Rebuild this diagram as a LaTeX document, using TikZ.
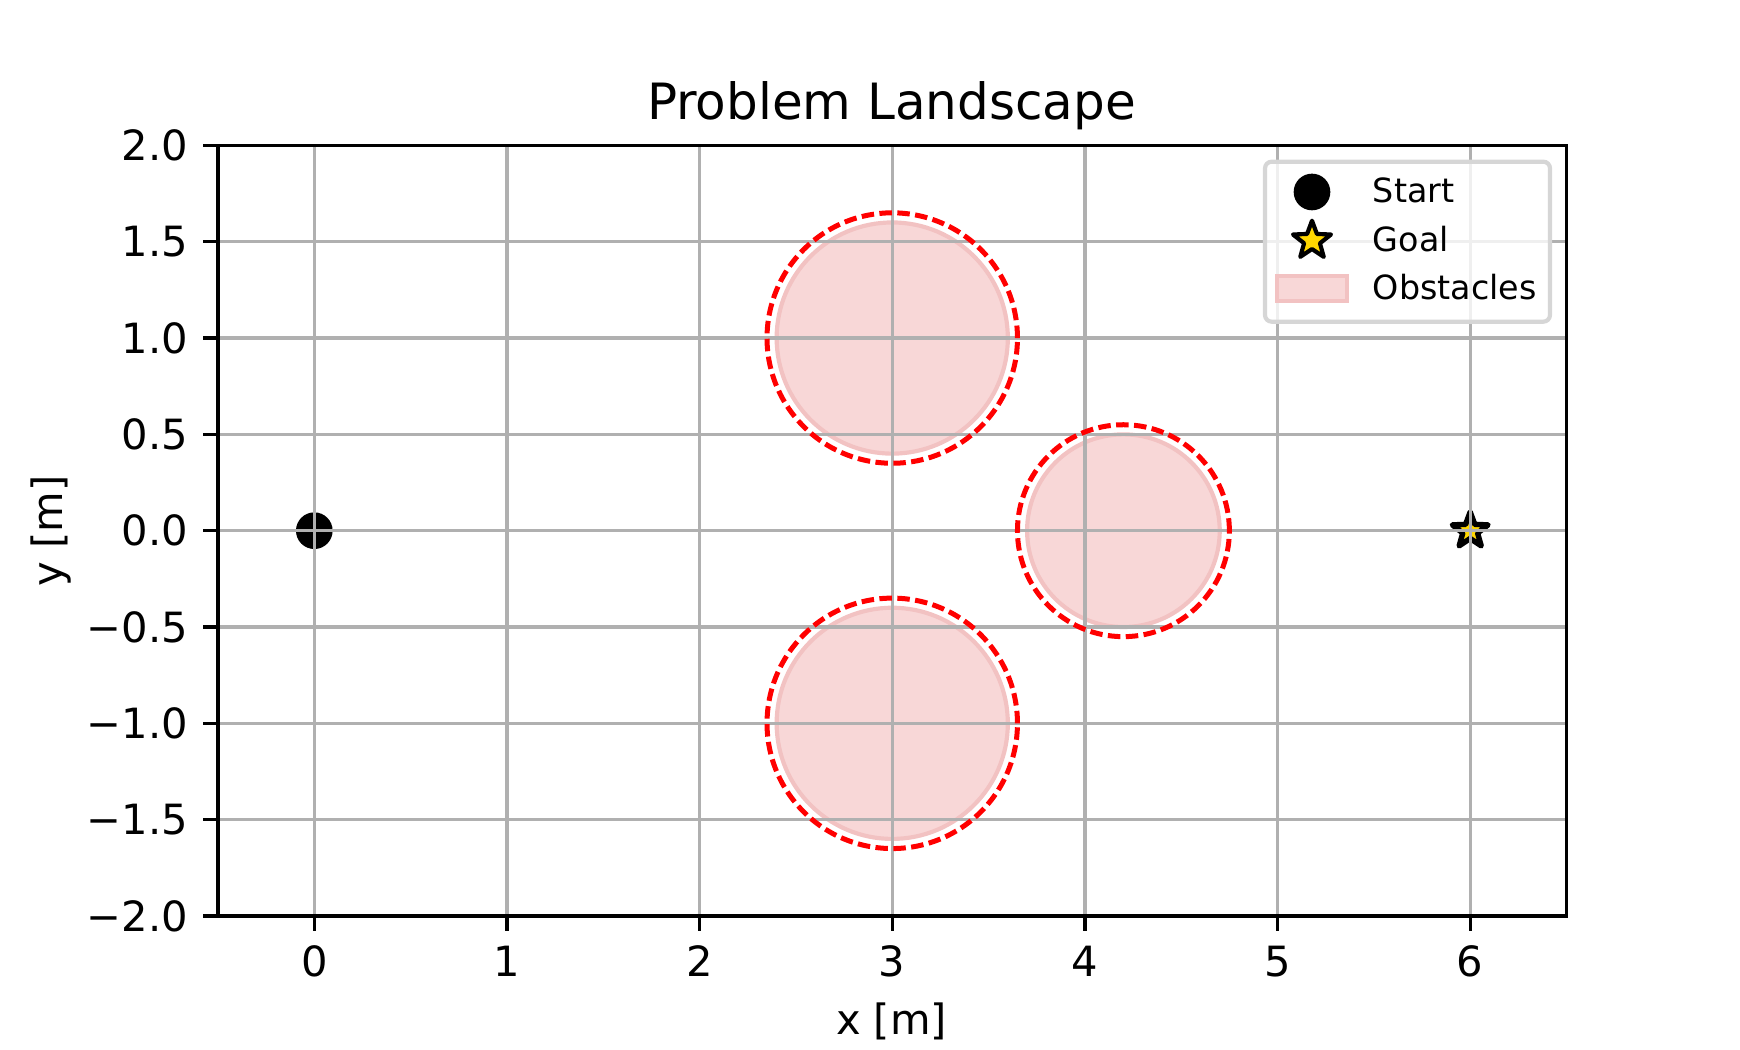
\documentclass[tikz,border=0pt]{standalone}
\usepackage{fontspec}
\setmainfont{DejaVu Sans}
\usetikzlibrary{shapes.geometric}
\definecolor{gridgray}{HTML}{B0B0B0}
\definecolor{goldc}{HTML}{FFD700}
\definecolor{obsfill}{RGB}{248,215,215}
\definecolor{obsedge}{RGB}{242,194,194}
\definecolor{legedge}{RGB}{214,214,214}
\begin{document}
\begin{tikzpicture}[x=0.24pt,y=-0.24pt,
  tickline/.style={line width=0.8pt,black},
  gridline/.style={line width=0.8pt,gridgray},
  ticklab/.style={font=\fontsize{10}{12}\selectfont,inner sep=0pt},
  leglab/.style={font=\fontsize{8}{10}\selectfont,inner sep=0pt,anchor=base west},
  startmark/.style={circle,fill=black,inner sep=0pt,minimum size=8.8pt},
  goalmark/.style={star,star points=5,star point ratio=2.4,fill=goldc,draw=black,line width=1pt,line join=round,inner sep=0pt,minimum size=9.6pt},
  obstacle/.style={fill=obsfill,draw=obsedge,line width=1pt},
  safety/.style={draw=red,line width=1.2pt,dash pattern=on 3pt off 1.3pt}]
\useasboundingbox (0,0) rectangle (1740,1050);
\begin{scope}[shift={(314.3,530.7)},x=46.236pt,y=46.236pt]
  % obstacles
  \path[obstacle] (3,1) circle[radius=0.6];
  \path[obstacle] (3,-1) circle[radius=0.6];
  \path[obstacle] (4.2,0) circle[radius=0.5];
  % start and goal
  \node[startmark] (start) at (0,0) {};
  \node[goalmark,line width=1.3pt,minimum size=9pt] (goal) at (6,0) {};
  % grid
  \foreach \x in {0,...,6} \draw[gridline] (\x,-2) -- (\x,2);
  \foreach \y in {-1.5,-1,-0.5,0,0.5,1,1.5} \draw[gridline] (-0.5,\y) -- (6.5,\y);
  % safety margins
  \path[safety] (3,1) circle[radius=0.65];
  \path[safety] (3,-1) circle[radius=0.65];
  \path[safety] (4.2,0) circle[radius=0.55];
  % axes frame
  \draw[line width=0.8pt] (-0.5,-2) rectangle (6.5,2);
  % x ticks
  \foreach \x in {0,...,6} {
    \draw[tickline] (\x,-2) -- ++(0,-3.5pt);
    \node[ticklab,anchor=north] (xt\x) at ([yshift=-7pt]\x,-2) {\x};
  }
  % y ticks
  \foreach \y/\t [count=\i] in {-2/−2.0,-1.5/−1.5,-1/−1.0,-0.5/−0.5,0/0.0,0.5/0.5,1/1.0,1.5/1.5,2/2.0} {
    \draw[tickline] (-0.5,\y) -- ++(-3.5pt,0);
    \node[ticklab,anchor=east] (yt\i) at ([xshift=-7pt]-0.5,\y) {\t};
  }
\end{scope}
% labels
\node[font=\fontsize{12}{14}\selectfont,anchor=base,inner sep=0pt] (title) at (891.5,120) {Problem Landscape};
\node[font=\fontsize{10}{12}\selectfont,anchor=base,inner sep=0pt] (xlab) at (891.5,1035) {x [m]};
\node[font=\fontsize{10}{12}\selectfont,anchor=base,inner sep=0pt,rotate=90] (ylab) at (62,531) {y [m]};
% legend
\path[draw=legedge,line width=1pt,fill=white,fill opacity=0.8,rounded corners=1.6pt] (1265,161.7) rectangle (1550,321.7);
\node[startmark] (legstart) at (1312,192) {};
\node[goalmark] (leggoal) at (1312,240.7) {};
\path[obstacle,line width=0.8pt] (1277,276) rectangle (1347,301);
\node[leglab] (lt1) at (1372,203) {Start};
\node[leglab] (lt2) at (1372,251.5) {Goal};
\node[leglab] (lt3) at (1372,300) {Obstacles};
\end{tikzpicture}
\end{document}
